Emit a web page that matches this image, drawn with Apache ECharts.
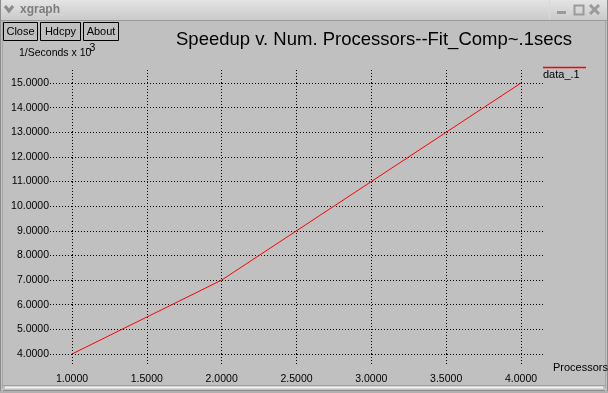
<!DOCTYPE html>
<html><head><meta charset="utf-8">
<script src="https://cdn.jsdelivr.net/npm/echarts@6/dist/echarts.min.js"></script>
<style>html,body{margin:0;padding:0;background:#c0c0c0;}#c{width:608px;height:393px;}</style>
</head><body><div id="c"></div>
<script>
const processors = [1, 2, 3, 4];
const speedup = [4, 7, 11, 15];
const seriesName = 'data_.1';
const chartTitle = 'Speedup v. Num. Processors--Fit_Comp~.1secs';
const yAxisName = '1/Seconds x 10';
const xAxisName = 'Processors';
const xTicks = {min: 1, max: 4, step: 0.5};
const yTicks = {min: 4, max: 15, step: 1};

const FF = '"Liberation Sans", Arial, sans-serif';
const dotted = {color: '#000', width: 1, type: [1, 2]};
const fmt = v => v.toFixed(4);

const chart = echarts.init(document.getElementById('c'));
chart.setOption({
  animation: false,
  backgroundColor: '#c0c0c0',
  title: {text: chartTitle, left: 176, top: 30, padding: 0,
    textStyle: {fontFamily: FF, fontSize: 18.5, fontWeight: 'normal', color: '#000'}},
  grid: {left: 72, right: 87, top: 83, bottom: 39},
  xAxis: [
    {type: 'value', min: xTicks.min, max: xTicks.max, interval: xTicks.step, position: 'bottom',
     axisLine: {show: false},
     axisTick: {show: true, length: 11, inside: false, lineStyle: dotted},
     splitLine: {show: true, lineStyle: dotted},
     axisLabel: {formatter: fmt, margin: 20, fontFamily: FF, fontSize: 10.5, color: '#000'}},
    {type: 'value', min: xTicks.min, max: xTicks.max, interval: xTicks.step, position: 'top',
     axisLine: {show: false},
     axisTick: {show: true, length: 15, inside: false, lineStyle: dotted},
     splitLine: {show: false}, axisLabel: {show: false}}
  ],
  yAxis: [
    {type: 'value', min: yTicks.min, max: yTicks.max, interval: yTicks.step, position: 'left',
     axisLine: {show: false},
     axisTick: {show: true, length: 22, inside: false, lineStyle: dotted},
     splitLine: {show: true, lineStyle: dotted},
     axisLabel: {formatter: fmt, margin: 23, fontFamily: FF, fontSize: 10.5, color: '#000'}},
    {type: 'value', min: yTicks.min, max: yTicks.max, interval: yTicks.step, position: 'right',
     axisLine: {show: false},
     axisTick: {show: true, length: 22, inside: false, lineStyle: dotted},
     splitLine: {show: false}, axisLabel: {show: false}}
  ],
  series: [{
    name: seriesName, type: 'line', xAxisIndex: 0, yAxisIndex: 0,
    data: processors.map((x, i) => [x, speedup[i]]),
    symbol: 'none', lineStyle: {color: '#ff0000', width: 1}, itemStyle: {color: '#ff0000'}, z: 5
  }],
  graphic: [
    // title bar
    {type: 'rect', shape: {x: 0, y: 0, width: 608, height: 20}, z: -10,
     style: {fill: new echarts.graphic.LinearGradient(0, 0, 0, 1, [{offset: 0, color: '#e4e4e4'}, {offset: 1, color: '#cacaca'}])}},
    {type: 'line', shape: {x1: 0, y1: 20.5, x2: 608, y2: 20.5}, style: {stroke: '#9a9a9a', lineWidth: 1}},
    {type: 'line', shape: {x1: 549.5, y1: 0, x2: 549.5, y2: 20}, style: {stroke: '#d8d8d8', lineWidth: 1}},
    {type: 'polyline', shape: {points: [[5, 6], [9, 11], [13, 6]]}, style: {stroke: '#8a8a8a', lineWidth: 3, fill: null}},
    {type: 'text', x: 20, y: 4, style: {text: 'xgraph', fontFamily: FF, fontSize: 12, fontWeight: 'bold', fill: '#7c7c7c'}},
    {type: 'rect', shape: {x: 557, y: 11, width: 9, height: 3}, style: {fill: '#9a9a9a'}},
    {type: 'rect', shape: {x: 574.5, y: 5.5, width: 9, height: 9}, style: {fill: null, stroke: '#9a9a9a', lineWidth: 2}},
    {type: 'line', shape: {x1: 590, y1: 5, x2: 599, y2: 14}, style: {stroke: '#9a9a9a', lineWidth: 3}},
    {type: 'line', shape: {x1: 599, y1: 5, x2: 590, y2: 14}, style: {stroke: '#9a9a9a', lineWidth: 3}},
    // window frame
    {type: 'line', shape: {x1: 0.5, y1: 0, x2: 0.5, y2: 393}, style: {stroke: '#8c8c8c', lineWidth: 1}},
    {type: 'line', shape: {x1: 2.5, y1: 21, x2: 2.5, y2: 388}, style: {stroke: '#a8a8a8', lineWidth: 1}},
    {type: 'line', shape: {x1: 607.5, y1: 0, x2: 607.5, y2: 393}, style: {stroke: '#8c8c8c', lineWidth: 1}},
    {type: 'line', shape: {x1: 605.5, y1: 21, x2: 605.5, y2: 388}, style: {stroke: '#a8a8a8', lineWidth: 1}},
    {type: 'line', shape: {x1: 3, y1: 385.5, x2: 605, y2: 385.5}, style: {stroke: '#a0a0a0', lineWidth: 1}},
    {type: 'line', shape: {x1: 5, y1: 387.5, x2: 603, y2: 387.5}, style: {stroke: '#f0f0f0', lineWidth: 2}},
    {type: 'line', shape: {x1: 3, y1: 390.5, x2: 605, y2: 390.5}, style: {stroke: '#8c8c8c', lineWidth: 1}},
    {type: 'rect', shape: {x: 0, y: 391, width: 608, height: 2}, style: {fill: '#b0b0b0'}},
    // buttons
    {type: 'rect', shape: {x: 3.5, y: 22.5, width: 34, height: 18}, style: {fill: '#c0c0c0', stroke: '#000', lineWidth: 1}},
    {type: 'text', x: 20.5, y: 31.5, style: {text: 'Close', fontFamily: FF, fontSize: 11, fill: '#000', align: 'center', verticalAlign: 'middle'}},
    {type: 'rect', shape: {x: 40.5, y: 22.5, width: 40, height: 18}, style: {fill: '#c0c0c0', stroke: '#000', lineWidth: 1}},
    {type: 'text', x: 60.5, y: 31.5, style: {text: 'Hdcpy', fontFamily: FF, fontSize: 11, fill: '#000', align: 'center', verticalAlign: 'middle'}},
    {type: 'rect', shape: {x: 83.5, y: 22.5, width: 35, height: 18}, style: {fill: '#c0c0c0', stroke: '#000', lineWidth: 1}},
    {type: 'text', x: 101, y: 31.5, style: {text: 'About', fontFamily: FF, fontSize: 11, fill: '#000', align: 'center', verticalAlign: 'middle'}},
    // axis names
    {type: 'text', x: 19, y: 53, style: {text: yAxisName, fontFamily: FF, fontSize: 10.5, fill: '#000', verticalAlign: 'middle'}},
    {type: 'text', x: 86, y: 48, style: {text: '-3', fontFamily: FF, fontSize: 10.5, fill: '#000', verticalAlign: 'middle'}},
    {type: 'text', x: 553, y: 368, style: {text: xAxisName + '.', fontFamily: FF, fontSize: 11, fill: '#000', verticalAlign: 'middle'}},
    // legend
    {type: 'line', shape: {x1: 543, y1: 67.5, x2: 586, y2: 67.5}, style: {stroke: '#ff0000', lineWidth: 1.5}},
    {type: 'text', x: 543, y: 75, style: {text: seriesName, fontFamily: FF, fontSize: 11, fill: '#000', verticalAlign: 'middle'}}
  ]
});
</script></body></html>
